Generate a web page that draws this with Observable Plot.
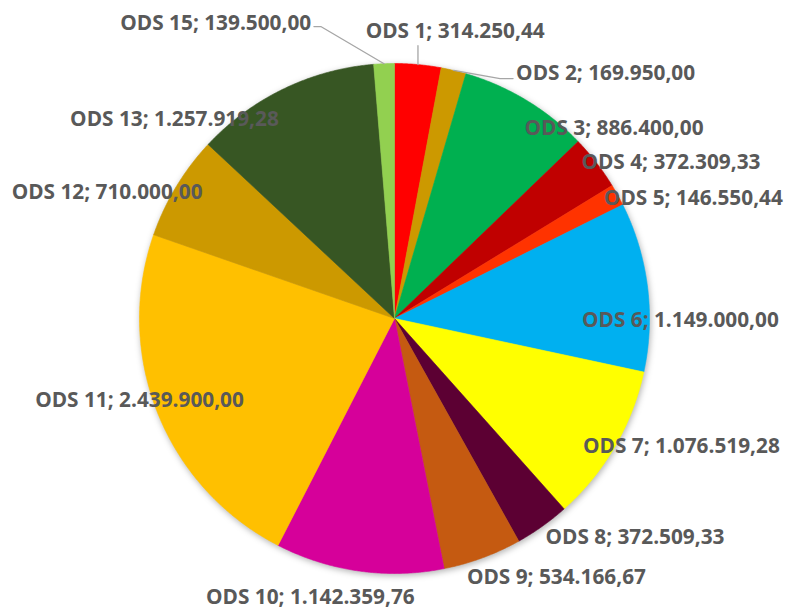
<!DOCTYPE html>
<html><head><meta charset="utf-8">
<script src="https://cdn.jsdelivr.net/npm/d3@7"></script>
<script src="https://cdn.jsdelivr.net/npm/@observablehq/plot@0.6"></script>
<style>html,body{margin:0;padding:0;background:#fff}</style>
</head><body><div id="chart"></div>
<script>
// ---- data ----
const categories = ["ODS 1","ODS 2","ODS 3","ODS 4","ODS 5","ODS 6","ODS 7","ODS 8","ODS 9","ODS 10","ODS 11","ODS 12","ODS 13","ODS 15"];
const values = [314250.44,169950.00,886400.00,372309.33,146550.44,1149000.00,1076519.28,372509.33,534166.67,1142359.76,2439900.00,710000.00,1257919.28,139500.00];
const colors = ["#FF0000","#CC9900","#00B050","#C00000","#FF3300","#00B0F0","#FFFF00","#5C0033","#C55A11","#D6009A","#FFC000","#CC9900","#375623","#92D050"];

// ---- layout (label centres, in units of the pie radius) ----
const labelPos = [[0.238,1.125],[0.828,0.961],[0.861,0.746],[1.084,0.613],[1.172,0.473],[1.121,-0.008],[1.125,-0.5],[0.943,-0.859],[0.635,-1.016],[-0.330,-1.094],[-1.0,-0.320],[-1.127,0.496],[-0.863,0.781],[-0.701,1.156]];
// leader lines: [category index, elbow, end]
const leaderDefs = [[13,[-0.289,1.145],[-0.316,1.145]],[0,[0.092,1.07],[0.092,1.07]],[1,[0.414,0.941],[0.465,0.941]]];

const fmt = v => v.toLocaleString("de-DE",{minimumFractionDigits:2,maximumFractionDigits:2});
const arcs = d3.pie().sort(null).value(d => d)(values);

const slicePts = [];
arcs.forEach((a,i) => {
  slicePts.push({name: categories[i], x: 0, y: 0});
  const n = Math.max(2, Math.ceil((a.endAngle - a.startAngle) / 0.005));
  for (let k = 0; k <= n; k++) {
    const t = a.startAngle + (a.endAngle - a.startAngle) * k / n;
    slicePts.push({name: categories[i], x: Math.sin(t), y: Math.cos(t)});
  }
  slicePts.push({name: categories[i], x: 0, y: 0});
});

const labels = categories.map((c,i) => ({text: `${c}; ${fmt(values[i])}`, x: labelPos[i][0], y: labelPos[i][1]}));

const leaderPts = [];
leaderDefs.forEach(([i, elbow, end]) => {
  const a = arcs[i], m = (a.startAngle + a.endAngle) / 2;
  leaderPts.push({id: i, x: Math.sin(m), y: Math.cos(m)});
  leaderPts.push({id: i, x: elbow[0], y: elbow[1]});
  leaderPts.push({id: i, x: end[0], y: end[1]});
});

const cx = 394, cy = 318, R = 255;
const chart = Plot.plot({
  width: 786, height: 610, margin: 0,
  x: {domain: [-1, 1], range: [cx - R, cx + R], axis: null},
  y: {domain: [-1, 1], range: [cy + R, cy - R], axis: null},
  color: {domain: categories, range: colors},
  style: {background: "#fff", overflow: "visible"},
  marks: [
    Plot.line(slicePts, {x: "x", y: "y", z: "name", fill: "name", stroke: "name", strokeWidth: 0.6}),
    Plot.line(leaderPts, {x: "x", y: "y", z: "id", stroke: "#A6A6A6", strokeWidth: 1.3}),
    Plot.text(labels, {x: "x", y: "y", text: "text", fill: "#595959", fontSize: 20.8, fontWeight: 700, fontFamily: "'Open Sans', sans-serif"})
  ]
});
document.getElementById("chart").appendChild(chart);
const g = chart.querySelector('g[aria-label="line"]');
if (g) g.style.filter = "drop-shadow(1px 2px 3px rgba(0,0,0,0.3))";
</script>
</body></html>
